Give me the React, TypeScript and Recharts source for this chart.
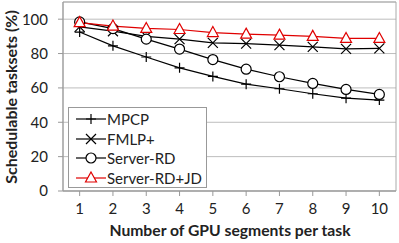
import { LineChart, Line, XAxis, YAxis, CartesianGrid, ReferenceArea } from 'recharts';

const segments = [1, 2, 3, 4, 5, 6, 7, 8, 9, 10];
const mpcp = [92.5, 84.5, 78, 71.7, 66.7, 62.2, 59.5, 56.6, 54, 52.9];
const fmlp = [95.5, 93, 90, 88.4, 86.2, 85.8, 84.9, 83.9, 82.7, 83];
const serverRd = [98.4, 94.5, 88.4, 82.6, 76.5, 70.9, 66.5, 62.6, 59.1, 56.2];
const serverRdJd = [98, 96, 94.6, 94, 92.2, 91.3, 90.7, 90, 88.8, 88.8];
const yTicks = [0, 20, 40, 60, 80, 100];

const data = segments.map((s, i) => ({
  seg: s,
  mpcp: mpcp[i],
  fmlp: fmlp[i],
  rd: serverRd[i],
  rdjd: serverRdJd[i],
}));

const RED = '#e00000';
const FONT = 'Lato, "Open Sans", sans-serif';

function Marker({ kind, cx, cy, color }: { kind: string; cx: number; cy: number; color: string }) {
  if (kind === 'plus')
    return <path d={`M${cx - 5},${cy}H${cx + 5}M${cx},${cy - 5}V${cy + 5}`} stroke={color} strokeWidth={1.2} fill="none" />;
  if (kind === 'x')
    return <path d={`M${cx - 5},${cy - 5}L${cx + 5},${cy + 5}M${cx - 5},${cy + 5}L${cx + 5},${cy - 5}`} stroke={color} strokeWidth={1.2} fill="none" />;
  if (kind === 'circle') return <circle cx={cx} cy={cy} r={5} stroke={color} strokeWidth={1.2} fill="white" />;
  return <path d={`M${cx},${cy - 6}L${cx + 5.5},${cy + 4}L${cx - 5.5},${cy + 4}Z`} stroke={color} strokeWidth={1.2} fill="white" />;
}

const series = [
  { key: 'mpcp', name: 'MPCP', kind: 'plus', color: '#000' },
  { key: 'fmlp', name: 'FMLP+', kind: 'x', color: '#000' },
  { key: 'rd', name: 'Server-RD', kind: 'circle', color: '#000' },
  { key: 'rdjd', name: 'Server-RD+JD', kind: 'tri', color: RED },
];

function LegendBox() {
  return (
    <div
      style={{
        position: 'absolute',
        left: 68,
        top: 107,
        border: '1px solid #999',
        background: 'white',
        width: 139,
        height: 81,
        boxSizing: 'border-box',
        paddingTop: 1,
        fontFamily: FONT,
        fontSize: 15,
      }}
    >
      {series.map((s) => (
        <div key={s.key} style={{ display: 'flex', alignItems: 'center', height: 19.7 }}>
          <svg width={38} height={20} style={{ flex: 'none' }}>
            <line x1={7} x2={37} y1={10} y2={10} stroke={s.color} strokeWidth={1.2} />
            <Marker kind={s.kind} cx={22} cy={10} color={s.color} />
          </svg>
          <span style={{ color: '#222', whiteSpace: 'nowrap' }}>{s.name}</span>
        </div>
      ))}
    </div>
  );
}

export default function App() {
  return (
    <div style={{ position: 'absolute', left: 0, top: 0, background: 'white', width: 399, height: 243 }}>
      <LineChart width={399} height={243} data={data} margin={{ top: 2, right: 3, left: 0, bottom: 0 }}>
        <CartesianGrid vertical={false} stroke="#bdbdbd" />
        <ReferenceArea x1={0.5} x2={10.5} y1={0} y2={110} fill="none" stroke="#aaa" strokeWidth={1} />
        <XAxis
          dataKey="seg"
          type="number"
          domain={[0.5, 10.5]}
          ticks={segments}
          height={52}
          stroke="#999"
          tickSize={5}
          tick={{ fill: '#222', fontSize: 15, fontFamily: FONT, dy: 5 }}
          label={{
            content: () => (
              <text x={230} y={235.5} textAnchor="middle" fill="#222" fontSize={15.7} fontWeight={700} fontFamily={FONT}>
                Number of GPU segments per task
              </text>
            ),
          }}
        />
        <YAxis
          domain={[0, 110]}
          ticks={yTicks}
          width={63}
          stroke="#999"
          tickSize={5}
          tick={{ fill: '#222', fontSize: 15, fontFamily: FONT, dx: -8 }}
          label={{
            content: () => (
              <text x={17} y={97} transform="rotate(-90 17 97)" textAnchor="middle" fill="#222" fontSize={16} fontWeight={700} fontFamily={FONT}>
                Schedulable tasksets (%)
              </text>
            ),
          }}
        />
        {series.map((s) => (
          <Line
            key={s.key}
            dataKey={s.key}
            name={s.name}
            stroke={s.color}
            strokeWidth={1.2}
            isAnimationActive={false}
            dot={(p: any) => <Marker key={p.index} kind={s.kind} cx={p.cx} cy={p.cy} color={s.color} />}
          />
        ))}
      </LineChart>
      <LegendBox />
    </div>
  );
}
